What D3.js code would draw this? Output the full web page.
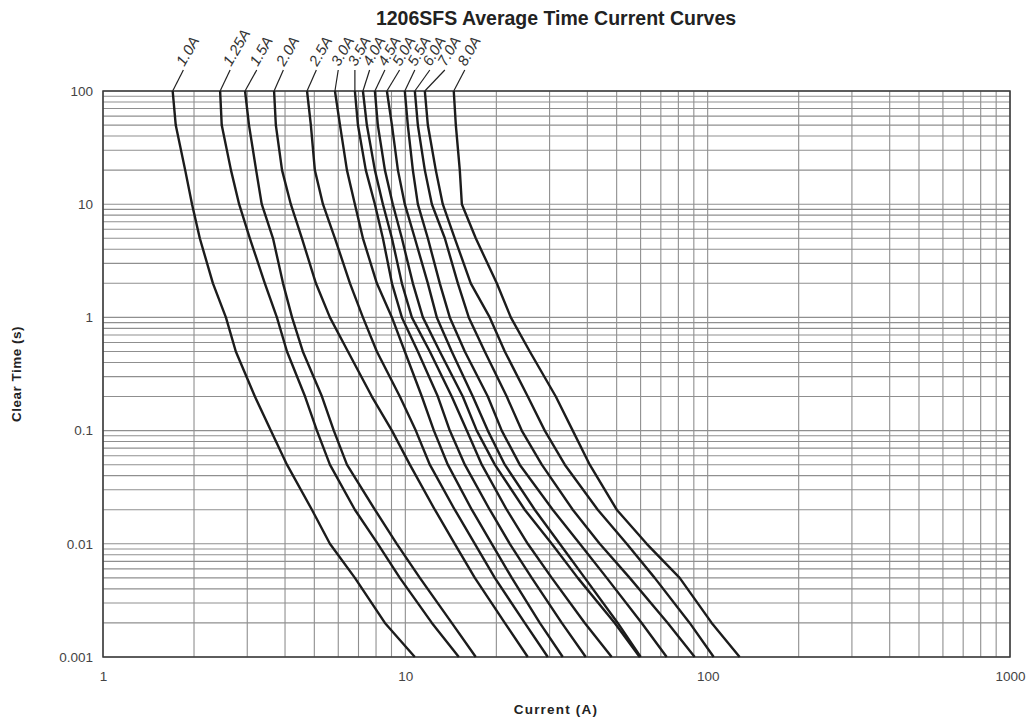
<!DOCTYPE html>
<html>
<head>
<meta charset="utf-8">
<script src="https://cdn.jsdelivr.net/npm/d3@7"></script>
<style>
  body { margin: 0; background: #fff; }
  text { font-family: "Liberation Sans", Arial, sans-serif; }
</style>
</head>
<body>
<div class="chart"></div>
<script>
// clear times (s) shared by every curve
var times = [100, 50, 20, 10, 5, 2, 1, 0.5, 0.2, 0.1, 0.05, 0.02, 0.01, 0.005, 0.002, 0.001];

// fuse ratings
var ratings = ["1.0A", "1.25A", "1.5A", "2.0A", "2.5A", "3.0A", "3.5A", "4.0A", "4.5A", "5.0A", "5.5A", "6.0A", "7.0A", "8.0A"];

// current (A) at each clear time
var amps1p0  = [1.70, 1.74, 1.87, 1.97, 2.09, 2.31, 2.55, 2.75, 3.18, 3.59, 4.06, 4.91, 5.63, 6.81, 8.56, 10.75];
var amps1p25 = [2.44, 2.47, 2.65, 2.82, 3.06, 3.43, 3.76, 4.06, 4.66, 5.10, 5.63, 6.81, 8.11, 9.59, 12.24, 15.03];
var amps1p5  = [2.95, 3.04, 3.21, 3.35, 3.65, 3.94, 4.22, 4.58, 5.30, 5.80, 6.41, 7.93, 9.37, 11.17, 14.24, 17.1];
var amps2p0  = [3.68, 3.73, 3.91, 4.18, 4.55, 5.06, 5.63, 6.46, 7.75, 9.03, 10.35, 12.52, 14.57, 16.98, 21.33, 25.41];
var amps2p5  = [4.73, 4.87, 5.02, 5.34, 5.85, 6.56, 7.24, 8.05, 9.59, 10.83, 12.05, 14.57, 16.98, 19.77, 24.83, 29.59];
var amps3p0  = [5.85, 6.08, 6.41, 6.81, 7.24, 8.05, 9.03, 9.96, 11.34, 12.43, 13.82, 16.59, 19.32, 22.5, 27.84, 33.17];
var amps3p5  = [6.81, 6.97, 7.40, 7.93, 8.43, 9.03, 9.74, 11.0, 12.81, 14.03, 15.73, 19.02, 22.16, 26.19, 32.92, 39.52];
var amps4p0  = [7.24, 7.46, 7.93, 8.43, 9.03, 9.74, 10.51, 12.05, 14.24, 15.97, 17.9, 21.65, 25.41, 30.5, 39.22, 48.15];
var amps4p5  = [7.93, 8.11, 8.56, 9.09, 9.74, 10.59, 11.43, 13.0, 15.49, 17.23, 19.77, 24.83, 30.5, 37.18, 49.27, 59.6];
var amps5p0  = [8.69, 9.03, 9.45, 9.96, 10.75, 11.87, 12.71, 14.24, 16.72, 18.74, 21.33, 26.8, 32.41, 39.22, 50.41, 60.05];
var amps5p5  = [9.96, 10.19, 10.59, 11.0, 11.87, 13.0, 14.03, 15.73, 18.74, 20.84, 23.9, 30.73, 37.76, 46.36, 60.5, 73.2];
var amps6p0  = [10.75, 11.0, 11.6, 12.24, 13.51, 14.92, 16.21, 18.31, 21.65, 24.27, 28.27, 35.79, 43.95, 55.23, 73.76, 90.6];
var amps7p0  = [11.6, 11.87, 12.61, 13.3, 14.57, 16.46, 19.02, 21.33, 25.41, 28.92, 33.69, 43.29, 53.98, 66.8, 87.2, 104.7];
var amps8p0  = [14.46, 14.69, 15.14, 15.38, 17.1, 20.07, 22.33, 25.8, 31.45, 35.79, 40.73, 50.03, 62.85, 80.8, 103.1, 127.6];

var series = [amps1p0, amps1p25, amps1p5, amps2p0, amps2p5, amps3p0, amps3p5,
              amps4p0, amps4p5, amps5p0, amps5p5, amps6p0, amps7p0, amps8p0];

// axis tick labels
var xTicks = [1, 10, 100, 1000];
var yTicks = [100, 10, 1, 0.1, 0.01, 0.001];

// how far each leader line leans right (px), so the labels fan out
var leaderLean = [10.7, 10, 11.7, 9.3, 9.3, 3.3, 0, 6.7, 10, 12.7, 10, 15, 20, 11];

var svgWidth = 1028;
var svgHeight = 721;
var margin = { top: 91, right: 18, bottom: 64, left: 103 };
var width = svgWidth - margin.left - margin.right;
var height = svgHeight - margin.top - margin.bottom;

var svg = d3.select(".chart")
    .append("svg")
    .attr("width", svgWidth)
    .attr("height", svgHeight);

var chartGroup = svg.append("g")
    .attr("transform", `translate(${margin.left}, ${margin.top})`);

var xScale = d3.scaleLog().domain([1, 1000]).range([0, width]);
var yScale = d3.scaleLog().domain([0.001, 100]).range([height, 0]);

// grid lines
chartGroup.append("g")
    .selectAll("line")
    .data(xScale.ticks())
    .enter()
    .append("line")
    .attr("x1", d => xScale(d))
    .attr("x2", d => xScale(d))
    .attr("y1", 0)
    .attr("y2", height)
    .attr("stroke", "#8f8f8f")
    .attr("stroke-width", 1.1);

chartGroup.append("g")
    .selectAll("line")
    .data(yScale.ticks())
    .enter()
    .append("line")
    .attr("x1", 0)
    .attr("x2", width)
    .attr("y1", d => yScale(d))
    .attr("y2", d => yScale(d))
    .attr("stroke", "#8f8f8f")
    .attr("stroke-width", 1.1);

// frame
chartGroup.append("rect")
    .attr("width", width)
    .attr("height", height)
    .attr("fill", "none")
    .attr("stroke", "#3a3a3a")
    .attr("stroke-width", 1.5);

// axes
var bottomAxis = d3.axisBottom(xScale).tickValues(xTicks).tickSize(0).tickPadding(14).tickFormat(d3.format(""));
var leftAxis = d3.axisLeft(yScale).tickValues(yTicks).tickSize(0).tickPadding(10).tickFormat(d3.format(""));

var xAxisG = chartGroup.append("g")
    .attr("transform", `translate(0, ${height})`)
    .call(bottomAxis);
var yAxisG = chartGroup.append("g")
    .call(leftAxis);

[xAxisG, yAxisG].forEach(function(g) {
    g.select(".domain").remove();
    g.selectAll("text")
        .style("font-size", "13.5px")
        .style("font-family", "'Liberation Sans', Arial, sans-serif")
        .attr("fill", "#444");
});

// curves
var line = d3.line()
    .x(d => xScale(d[0]))
    .y(d => yScale(d[1]));

chartGroup.append("g")
    .selectAll("path")
    .data(series)
    .enter()
    .append("path")
    .attr("d", s => line(s.map((a, i) => [a, times[i]])))
    .attr("fill", "none")
    .attr("stroke", "#1c1c1c")
    .attr("stroke-width", 2.4)
    .attr("stroke-linejoin", "round");

// rating labels with leader lines
var labelGroup = chartGroup.append("g")
    .selectAll("g")
    .data(series)
    .enter()
    .append("g")
    .attr("transform", s => `translate(${xScale(s[0])}, 0)`);

labelGroup.append("line")
    .attr("x1", 0)
    .attr("y1", 0)
    .attr("x2", (s, i) => leaderLean[i])
    .attr("y2", -21)
    .attr("stroke", "#222")
    .attr("stroke-width", 1.2);

labelGroup.append("text")
    .attr("transform", (s, i) => `translate(${leaderLean[i] + 1}, -24) rotate(-60)`)
    .style("font-size", "15px")
    .style("font-style", "italic")
    .style("font-weight", "300")
    .attr("fill", "#333")
    .text((s, i) => ratings[i]);

// titles
svg.append("text")
    .attr("x", 556)
    .attr("y", 25)
    .attr("text-anchor", "middle")
    .style("font-size", "19.5px")
    .style("font-weight", "bold")
    .attr("fill", "#222")
    .text("1206SFS Average Time Current Curves");

svg.append("text")
    .attr("x", 556)
    .attr("y", 714)
    .attr("text-anchor", "middle")
    .style("font-size", "13.5px")
    .style("font-weight", "bold")
    .style("letter-spacing", "1.2px")
    .attr("fill", "#222")
    .text("Current (A)");

svg.append("text")
    .attr("transform", `translate(21, ${margin.top + height / 2}) rotate(-90)`)
    .attr("text-anchor", "middle")
    .style("font-size", "13.5px")
    .style("font-weight", "bold")
    .style("letter-spacing", "0.5px")
    .attr("fill", "#222")
    .text("Clear Time (s)");
</script>
</body>
</html>
